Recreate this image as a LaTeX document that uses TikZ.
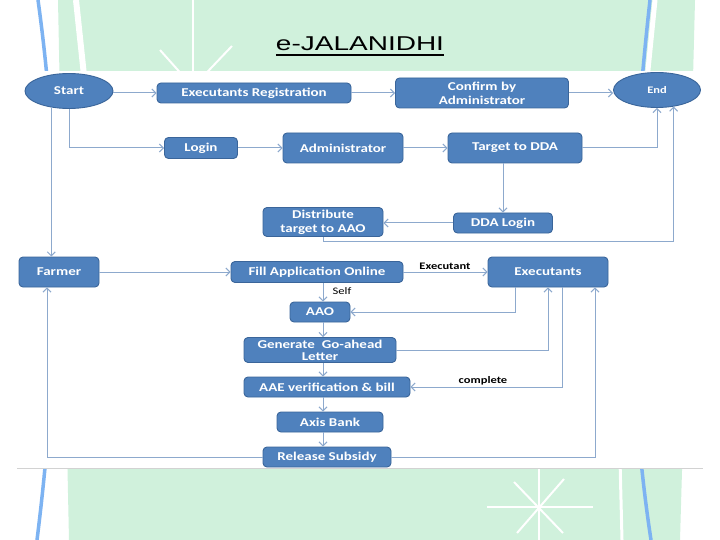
\documentclass[tikz,border=0pt]{standalone}
\usepackage{fontspec}
\usetikzlibrary{shapes.geometric,arrows.meta,calc}
\newfontfamily\boxfont{Carlito}[FakeStretch=1.25]
\newfontfamily\titlefont{Liberation Sans}[FakeStretch=1.4]
\definecolor{bgreen}{HTML}{D0F1DC}
\definecolor{sideblue}{HTML}{7DB3F2}
\definecolor{boxfill}{HTML}{4F81BD}
\definecolor{boxline}{HTML}{3A659A}
\definecolor{connc}{HTML}{8DA9CD}
\tikzset{
  box/.style={rectangle, rounded corners=4pt, draw=boxline, line width=0.9pt, fill=boxfill,
    text=white, font=\boxfont\bfseries\fontsize{12}{14}\selectfont, align=center, inner sep=0pt},
  oval/.style={ellipse, draw=boxline, line width=0.9pt, fill=boxfill, text=white,
    font=\boxfont\bfseries\fontsize{12}{14}\selectfont, inner sep=0pt},
  conn/.style={draw=connc, line width=1pt, -{Straight Barb[length=4pt,width=8pt]}},
  lbl/.style={font=\boxfont\bfseries\fontsize{10}{12}\selectfont, text=black, inner sep=0pt},
  deco/.style={white, line width=2pt}
}
\begin{document}
\begin{tikzpicture}[x=1pt,y=-1pt]
% canvas
\fill[white] (0,0) rectangle (720,540);
\useasboundingbox (0,0) rectangle (720,540);
% background decoration
\fill[bgreen] (58,0) .. controls (62,200) and (66,400) .. (69,540) -- (680,540) .. controls (684,400) and (690,200) .. (695,0) -- cycle;
\draw[white, line width=6pt] (76,0) -- (85,85);
\draw[white, line width=5pt] (655,0) -- (647,80);
\draw[white, line width=3pt] (620,460) -- (622,540);
\draw[sideblue, line width=3.5pt] (38,0) .. controls (63,180) and (59.5,360) .. (37,540);
\draw[sideblue, line width=3.5pt] (650,0) .. controls (630,180) and (623.5,360) .. (651,540);
% top star (mostly hidden)
\draw[deco] (193,0) -- (193,100);
\draw[deco] (160,50) -- (193,87);
\draw[deco] (232,46) -- (193,87);
% bottom star
\draw[deco] (487,507) -- (593,507);
\draw[deco] (539,460) -- (539,540);
\draw[deco] (514,482) -- (563,533);
\draw[deco] (564,479) -- (517,533);
% white diagram panel
\fill[white] (17,71) rectangle (703,468);
\draw[gray!35, line width=0.7pt] (17,468) -- (703,468);
% title
\node[font=\titlefont\fontsize{20}{24}\selectfont, text=black, inner sep=0pt, anchor=base] (title) at (360,51) {e-JALANIDHI};
\draw[black, line width=2pt] ($(title.base west)+(0,4.5)$) -- ($(title.base east)+(0,4.5)$);
% nodes
\node[oval, minimum width=88pt, minimum height=35pt] (start) at (69,91) {Start};
\node[box, minimum width=194pt, minimum height=20pt] (ereg) at (254,93) {Executants Registration};
\node[box, minimum width=173pt, minimum height=30pt] (conf) at (482,93) {Confirm by\\Administrator};
\node[oval, minimum width=87pt, minimum height=35pt, font=\boxfont\bfseries\fontsize{10}{12}\selectfont] (fin) at (657,90) {End};
\node[box, minimum width=73pt, minimum height=21pt] (login) at (201,148) {Login};
\node[box, minimum width=120pt, minimum height=30pt] (admin) at (343,148) {Administrator};
\node[box, minimum width=134pt, minimum height=30pt] (tdda) at (515,148) {Target to DDA};
\node[box, minimum width=120pt, minimum height=29pt] (dist) at (323,222) {Distribute\\target to AAO};
\node[box, minimum width=99pt, minimum height=20pt] (ddal) at (503,223) {DDA Login};
\node[box, minimum width=80pt, minimum height=30pt] (farmer) at (59,272) {Farmer};
\node[box, minimum width=172pt, minimum height=21pt] (fill) at (317,272) {Fill Application Online};
\node[box, minimum width=120pt, minimum height=30pt] (exe) at (548,272) {Executants};
\node[box, minimum width=60pt, minimum height=20pt] (aao) at (320,312) {AAO};
\node[box, minimum width=152pt, minimum height=25pt, font=\boxfont\bfseries\fontsize{12}{12}\selectfont] (gen) at (320,350) {Generate\ \ Go-ahead\\Letter};
\node[box, minimum width=166pt, minimum height=20pt] (aae) at (327,387) {AAE verification \& bill};
\node[box, minimum width=106pt, minimum height=20pt] (axis) at (330,422) {Axis Bank};
\node[box, minimum width=128pt, minimum height=20pt] (rel) at (327,457) {Release Subsidy};
\coordinate (spine) at (323,0);
% connectors
\draw[conn] (start.east |- ereg.west) -- (ereg.west);
\draw[conn] (ereg.east) -- (ereg.east -| conf.west);
\draw[conn] (conf.east) -- (conf.east -| fin.west);
\draw[conn] (start.south) |- (login.west);
\draw[conn] (start.223) -- (start.223 |- farmer.north);
\draw[conn] (login.east) -- (admin.west);
\draw[conn] (admin.east) -- (tdda.west);
\draw[conn] (tdda.east) -| (fin.south);
\draw[conn] (tdda.south -| ddal.north) -- (ddal.north);
\draw[conn] (ddal.west) -- (ddal.west -| dist.east);
\draw[conn] (dist.south) -- ($(dist.south)+(0,5)$) -| (fin.-45);
\draw[conn] (farmer.east |- fill.west) -- (fill.west);
\draw[conn] (fill.east) -- (fill.east -| exe.west);
\draw[conn] (fill.south -| spine) -- (aao.north -| spine);
\draw[conn] (aao.south -| spine) -- (gen.north -| spine);
\draw[conn] (gen.south -| spine) -- (aae.north -| spine);
\draw[conn] (aae.south -| spine) -- (axis.north -| spine);
\draw[conn] (axis.south -| spine) -- (rel.north -| spine);
\draw[conn] ($(exe.south west)+(28,0)$) |- (aao.east);
\draw[conn] (gen.east) -| (exe.south);
\draw[conn] ($(exe.south)+(14,0)$) |- (aae.east);
\draw[conn] (rel.east) -| ($(exe.south)+(47,0)$);
\draw[conn] (rel.west) -| ($(farmer.south)+(-12,0)$);
% labels
\node[lbl] (lexe) at (445,266) {Executant};
\node[lbl, font=\boxfont\fontsize{10}{12}\selectfont] (lself) at (342,291) {Self};
\node[lbl] (lcomp) at (483,381) {complete};
\end{tikzpicture}
\end{document}
